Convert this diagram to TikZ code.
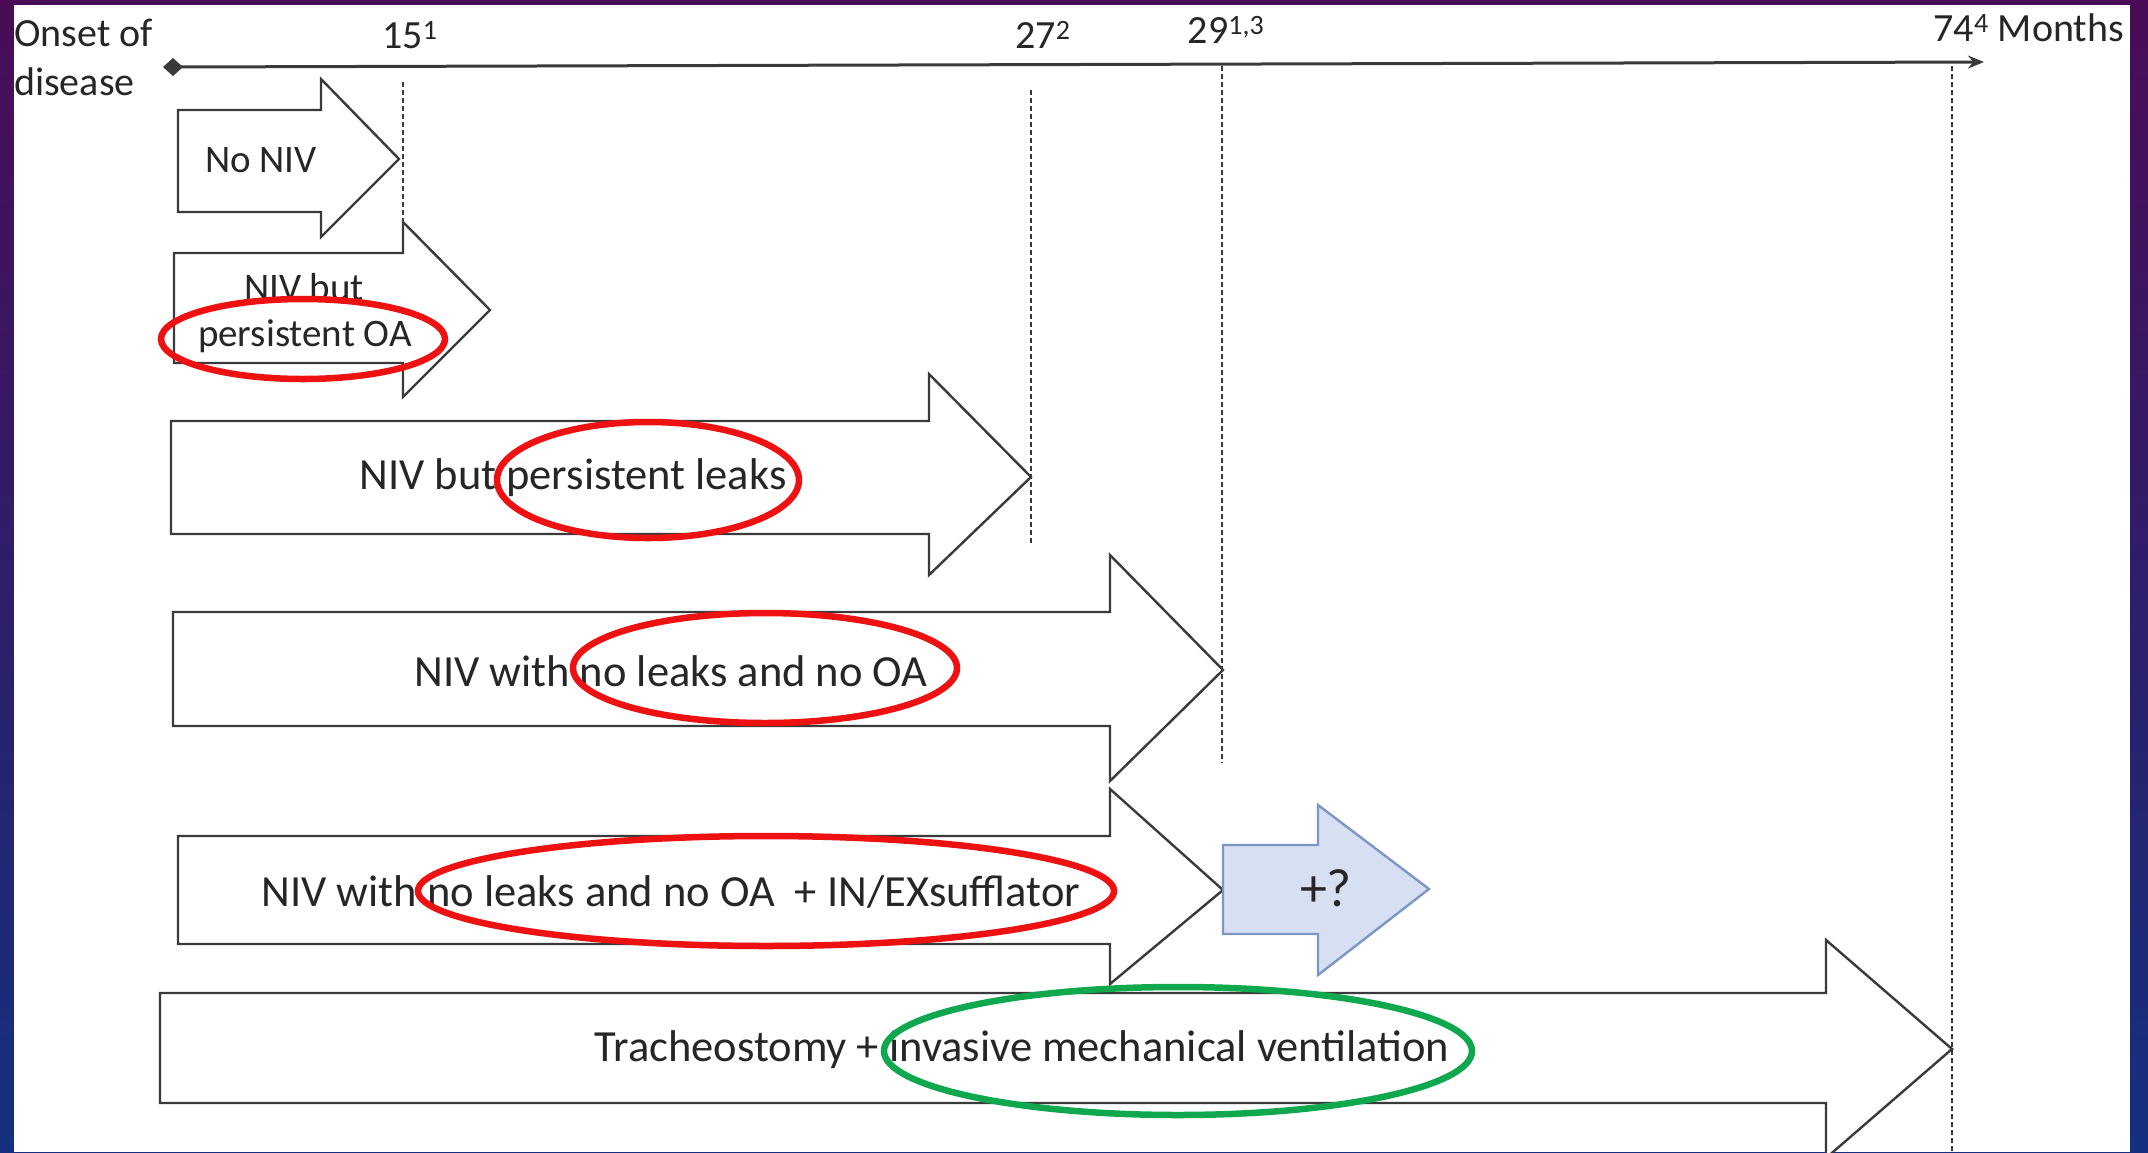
\documentclass[tikz,border=0pt]{standalone}
\usepackage{fontspec}
\setmainfont{Carlito}
\usetikzlibrary{arrows.meta}
\definecolor{lineg}{HTML}{3A3A3A}
\definecolor{redring}{HTML}{EE1111}
\definecolor{greenring}{HTML}{10A84E}
\definecolor{qfill}{HTML}{D6E0F2}
\definecolor{qdraw}{HTML}{7D97C4}
\definecolor{bgtop}{HTML}{4A0C57}
\definecolor{bgbot}{HTML}{14307E}
\tikzset{
  blockarrow/.style={draw=lineg, line width=2.4pt, fill=white, line join=miter},
  qarrow/.style={draw=qdraw, line width=2.4pt, fill=qfill, line join=miter},
  guide/.style={draw=lineg, line width=1.6pt, dash pattern=on 5pt off 3pt},
  lbl/.style={font=\fontsize{39}{44}\selectfont, text=black!85, inner sep=0pt},
  biglbl/.style={font=\fontsize{44.5}{50}\selectfont, text=black!85, inner sep=0pt},
  axlbl/.style={font=\fontsize{40}{46}\selectfont, text=black!85, inner sep=0pt},
  redr/.style={draw=redring, line width=6.5pt},
  greenr/.style={draw=greenring, line width=6.5pt}
}
\begin{document}
\begin{tikzpicture}[x=1pt,y=-1pt]
\useasboundingbox (0,0) rectangle (2148,1152);
\shade[top color=bgtop, bottom color=bgbot] (0,0) rectangle (2148,1152);
\fill[white] (14,5) rectangle (2130,1152);

% axis
\coordinate (axstart) at (173,67);
\coordinate (axend) at (1984,62);
\draw[lineg, line width=3pt, -{Stealth[length=16pt,width=13pt]}] (axstart) -- (axend);
\fill[lineg] (axstart) ++(-10,0) -- ++(10,-9) -- ++(10,9) -- ++(-10,9) -- cycle;

% guide lines
\coordinate (g1a) at (403,82); \coordinate (g1b) at (403,222);
\coordinate (g2a) at (1031,90); \coordinate (g2b) at (1031,545);
\coordinate (g3a) at (1222,66); \coordinate (g3b) at (1222,763);
\coordinate (g4a) at (1952,66); \coordinate (g4b) at (1952,1152);
\draw[guide] (g1a) -- (g1b);
\draw[guide] (g2a) -- (g2b);
\draw[guide] (g3a) -- (g3b);
\draw[guide] (g4a) -- (g4b);

% axis labels
\node[axlbl, anchor=west] (onset1) at (14,33) {Onset of};
\node[axlbl, anchor=west] (onset2) at (14,82) {disease};
\node[axlbl] (t15) at (410,35) {15\textsuperscript{1}};
\node[axlbl] (t27) at (1043,35) {27\textsuperscript{2}};
\node[axlbl] (t29) at (1226,30) {29\textsuperscript{1,3}};
\node[axlbl, anchor=east] (t74) at (2124,28) {74\textsuperscript{4} Months};

% block arrows
\draw[blockarrow] (178,110)--(321,110)--(321,79)--(399,159)--(321,237)--(321,212)--(178,212)--cycle;
\draw[blockarrow] (174,253)--(403,253)--(403,222)--(490,310)--(403,397)--(403,363)--(174,363)--cycle;
\draw[blockarrow] (171,421)--(929,421)--(929,374)--(1031,477)--(929,575)--(929,534)--(171,534)--cycle;
\draw[blockarrow] (173,612)--(1110,612)--(1110,555)--(1223,670)--(1110,781)--(1110,726)--(173,726)--cycle;
\draw[blockarrow] (178,836)--(1110,836)--(1110,789)--(1223,890)--(1110,984)--(1110,944)--(178,944)--cycle;
\draw[qarrow] (1223,845)--(1318,845)--(1318,805)--(1429,889)--(1318,975)--(1318,934)--(1223,934)--cycle;
\draw[blockarrow] (160,993)--(1826,993)--(1826,940)--(1952,1049)--(1826,1158)--(1826,1103)--(160,1103)--cycle;

% labels
\node[lbl] (l1) at (261,160) {No NIV};
\node[lbl] (l2a) at (304,287) {NIV but};
\node[lbl] (l2b) at (305,336) {persistent OA};
\node[biglbl] (l3) at (573,478) {NIV but persistent leaks};
\node[biglbl] (l4) at (671,671) {NIV with no leaks and no OA};
\node[biglbl] (l5) at (671,892) {NIV with no leaks and no OA\ \ + IN/EXsufflator};
\node[lbl, font=\fontsize{54}{60}\selectfont] (l6) at (1326,888) {+?};
\node[biglbl] (l7) at (1022,1050) {Tracheostomy + invasive mechanical ventilation};

% highlight rings
\draw[redr] (303,339) ellipse [x radius=142, y radius=40];
\draw[redr] (648,480) ellipse [x radius=151, y radius=58];
\draw[redr] (765,668) ellipse [x radius=192, y radius=55];
\draw[redr] (766,891) ellipse [x radius=348, y radius=55];
\draw[greenr] (1178,1051) ellipse [x radius=294, y radius=64];
\end{tikzpicture}
\end{document}
